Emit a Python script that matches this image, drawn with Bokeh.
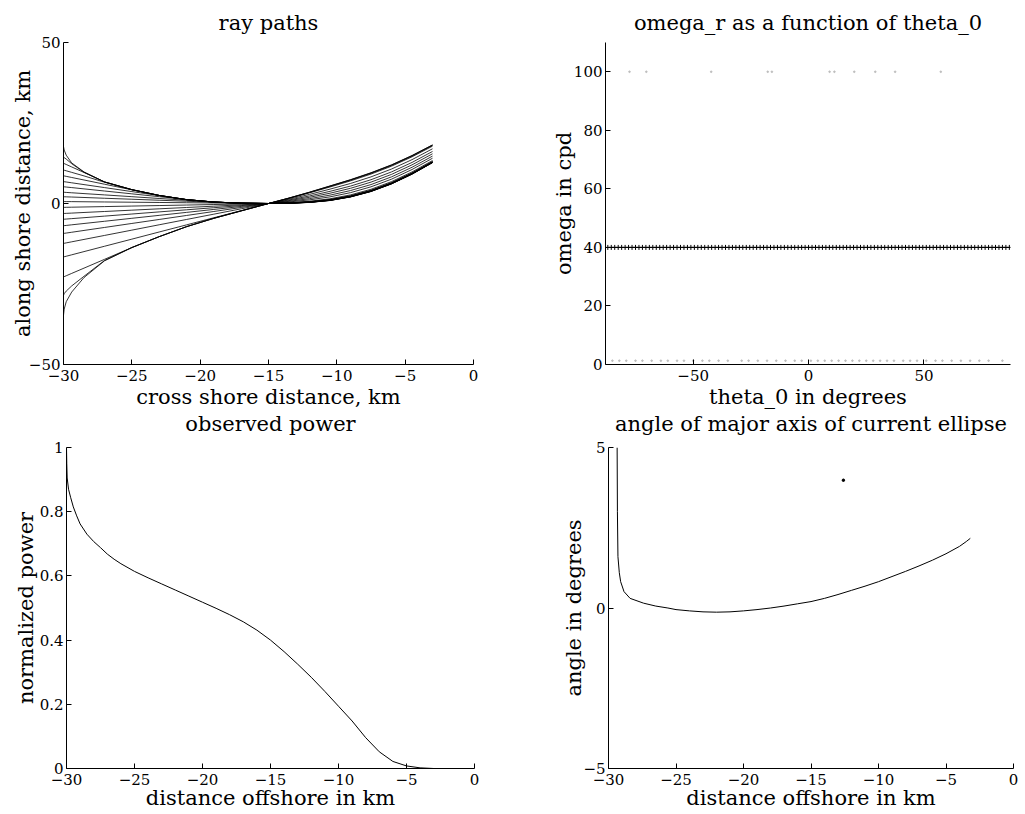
from bokeh.plotting import figure
from bokeh.layouts import column, row
from bokeh.models import Range1d, FixedTicker, CustomJSTickFormatter
from bokeh.embed import file_html
from bokeh.resources import INLINE

FONT = "DejaVu Serif"

# ---------------- data: ray paths ----------------
ray_x = [-30, -29.95, -29.8, -29.4, -28.5, -27, -25, -23, -21, -19, -17, -15,
         -13.5, -12, -10.5, -9, -7.5, -6, -4.5, -3]
ray_01 = [17.7, 16.6, 15.0, 12.6, 9.8, 6.7, 4.3, 2.5, 1.2, 0.45, 0.1, 0, 0.07, 0.33, 0.93, 2.03, 3.72, 6.08, 9.1, 12.68]
ray_02 = [14.4, 14.25, 13.8, 12.35, 9.7, 6.7, 4.3, 2.5, 1.2, 0.45, 0.1, 0, 0.08, 0.35, 0.95, 2.06, 3.75, 6.11, 9.13, 12.71]
ray_03 = [12.5, 12.4, 12.12, 11.35, 9.63, 6.7, 4.3, 2.5, 1.2, 0.45, 0.1, 0, 0.09, 0.36, 0.98, 2.08, 3.78, 6.14, 9.16, 12.74]
ray_04 = [10.4, 10.34, 10.16, 9.67, 8.57, 6.6, 4.3, 2.5, 1.2, 0.45, 0.1, 0, 0.09, 0.38, 1.0, 2.11, 3.81, 6.17, 9.19, 12.76]
ray_05 = [8.6, 8.56, 8.43, 8.08, 7.3, 5.99, 4.25, 2.5, 1.2, 0.45, 0.1, 0, 0.1, 0.39, 1.02, 2.14, 3.84, 6.2, 9.22, 12.79]
ray_06 = [6.8, 6.77, 6.68, 6.43, 5.87, 4.94, 3.7, 2.46, 1.2, 0.45, 0.1, 0, 0.11, 0.41, 1.04, 2.16, 3.87, 6.23, 9.25, 12.82]
ray_07 = [5.2, 5.18, 5.11, 4.94, 4.54, 3.88, 3.0, 2.12, 1.22, 0.45, 0.1, 0, 0.12, 0.43, 1.07, 2.19, 3.9, 6.26, 9.27, 12.85]
ray_08 = [3.5, 3.49, 3.44, 3.33, 3.08, 2.67, 2.12, 1.56, 1.01, 0.45, 0.1, 0, 0.14, 0.46, 1.11, 2.25, 3.95, 6.32, 9.33, 12.9]
ray_09 = [2.1, 2.09, 2.07, 2.01, 1.87, 1.63, 1.32, 1.01, 0.7, 0.38, 0.08, 0, 0.15, 0.49, 1.16, 2.3, 4.01, 6.38, 9.39, 12.96]
ray_10 = [0.6, 0.6, 0.59, 0.58, 0.54, 0.48, 0.4, 0.32, 0.24, 0.16, 0.08, 0, 0.18, 0.55, 1.25, 2.41, 4.13, 6.49, 9.51, 13.07]
ray_11 = [-1.2, -1.2, -1.18, -1.15, -1.08, -0.96, -0.8, -0.64, -0.48, -0.32, -0.16, 0, 0.27, 0.71, 1.47, 2.67, 4.42, 6.79, 9.8, 13.34]
ray_12 = [-3.1, -3.09, -3.06, -2.98, -2.79, -2.48, -2.07, -1.65, -1.24, -0.83, -0.41, 0, 0.48, 1.13, 2.06, 3.37, 5.18, 7.56, 10.55, 14.06]
ray_13 = [-4.9, -4.88, -4.83, -4.7, -4.41, -3.92, -3.27, -2.61, -1.96, -1.31, -0.65, 0, 0.67, 1.51, 2.6, 4.02, 5.88, 8.27, 11.25, 14.72]
ray_14 = [-6.9, -6.88, -6.81, -6.62, -6.21, -5.52, -4.6, -3.68, -2.76, -1.84, -0.92, 0, 0.89, 1.93, 3.19, 4.72, 6.64, 9.04, 12.0, 15.44]
ray_15 = [-9.3, -9.27, -9.18, -8.93, -8.37, -7.44, -6.2, -4.96, -3.72, -2.48, -1.24, 0, 1.1, 2.34, 3.78, 5.41, 7.39, 9.81, 12.75, 16.16]
ray_16 = [-12.4, -12.36, -12.23, -11.9, -11.16, -9.92, -8.27, -6.61, -4.96, -3.31, -1.65, 0, 1.34, 2.82, 4.46, 6.22, 8.27, 10.7, 13.62, 16.99]
ray_17 = [-16.6, -16.54, -16.38, -15.94, -14.94, -13.28, -11.07, -8.85, -6.64, -4.43, -2.21, 0, 1.59, 3.3, 5.13, 7.02, 9.14, 11.59, 14.49, 17.81]
ray_18 = [-22.8, -22.71, -22.44, -21.71, -20.07, -17.34, -13.7, -10.3, -7.2, -4.6, -2.3, 0, 1.65, 3.42, 5.31, 7.24, 9.38, 11.82, 14.73, 18.03]
ray_19 = [-28.5, -28.0, -27.2, -25.6, -22.6, -17.7, -13.65, -10.3, -7.2, -4.6, -2.3, 0, 1.68, 3.49, 5.41, 7.35, 9.49, 11.94, 14.84, 18.15]
ray_20 = [-34.7, -32.8, -30.5, -27.5, -23.0, -17.8, -13.7, -10.3, -7.2, -4.6, -2.3, 0, 1.7, 3.52, 5.45, 7.4, 9.55, 12.0, 14.9, 18.2]
rays = [ray_01, ray_02, ray_03, ray_04, ray_05, ray_06, ray_07, ray_08, ray_09, ray_10,
        ray_11, ray_12, ray_13, ray_14, ray_15, ray_16, ray_17, ray_18, ray_19, ray_20]

# ---------------- data: omega_r vs theta_0 ----------------
theta_0 = [-87, -85.5, -84, -82.5, -81, -79.5, -78, -76.5, -75, -73.5, -72, -70.5, -69, -67.5,
           -66, -64.5, -63, -61.5, -60, -58.5, -57, -55.5, -54, -52.5, -51, -49.5, -48, -46.5,
           -45, -43.5, -42, -40.5, -39, -37.5, -36, -34.5, -33, -31.5, -30, -28.5, -27, -25.5,
           -24, -22.5, -21, -19.5, -18, -16.5, -15, -13.5, -12, -10.5, -9, -7.5, -6, -4.5, -3,
           -1.5, 0, 1.5, 3, 4.5, 6, 7.5, 9, 10.5, 12, 13.5, 15, 16.5, 18, 19.5, 21, 22.5, 24,
           25.5, 27, 28.5, 30, 31.5, 33, 34.5, 36, 37.5, 39, 40.5, 42, 43.5, 45, 46.5, 48, 49.5,
           51, 52.5, 54, 55.5, 57, 58.5, 60, 61.5, 63, 64.5, 66, 67.5, 69, 70.5, 72, 73.5, 75,
           76.5, 78, 79.5, 81, 82.5, 84, 85.5, 87]
omega_r = [40, 40, 40, 40, 40, 40, 40, 40, 40, 40, 40, 40, 40, 40, 40, 40, 40, 40, 40, 40,
           40, 40, 40, 40, 40, 40, 40, 40, 40, 40, 40, 40, 40, 40, 40, 40, 40, 40, 40, 40,
           40, 40, 40, 40, 40, 40, 40, 40, 40, 40, 40, 40, 40, 40, 40, 40, 40, 40, 40, 40,
           40, 40, 40, 40, 40, 40, 40, 40, 40, 40, 40, 40, 40, 40, 40, 40, 40, 40, 40, 40,
           40, 40, 40, 40, 40, 40, 40, 40, 40, 40, 40, 40, 40, 40, 40, 40, 40, 40, 40, 40,
           40, 40, 40, 40, 40, 40, 40, 40, 40, 40, 40, 40, 40, 40, 40, 40, 40]
# faint stray points seen at the top and bottom of the panel
stray_hi_theta = [-77.6, -70.3, -42.2, -17.7, -15.9, 9.1, 11.2, 19.8, 28.9, 37.5, 57.3]
stray_hi_omega = [100, 100, 100, 100, 100, 100, 100, 100, 100, 100, 100]
stray_lo_theta = [-85, -82, -79, -75, -72, -68, -64, -61, -57, -54, -50, -46, -43, -39, -35,
                  -29, -26, -22, -18, -14, -10, -6, -3, 1, 4, 7, 10, 13, 16, 19, 22, 25, 28,
                  31, 34, 37, 41, 44, 47, 51, 55, 58, 62, 66, 70, 74, 78, 84]
stray_lo_omega = [1.3, 1.3, 1.3, 1.3, 1.3, 1.3, 1.3, 1.3, 1.3, 1.3, 1.3, 1.3, 1.3, 1.3, 1.3,
                  1.3, 1.3, 1.3, 1.3, 1.3, 1.3, 1.3, 1.3, 1.3, 1.3, 1.3, 1.3, 1.3, 1.3, 1.3,
                  1.3, 1.3, 1.3, 1.3, 1.3, 1.3, 1.3, 1.3, 1.3, 1.3, 1.3, 1.3, 1.3, 1.3, 1.3,
                  1.3, 1.3, 1.3]

# ---------------- data: observed power ----------------
power_x = [-30, -29.98, -29.95, -29.85, -29.7, -29.5, -29.25, -29, -28.5, -28, -27.5, -27,
           -26.5, -26, -25, -24, -23, -22, -21, -20, -19, -18, -17, -16, -15, -14, -13, -12,
           -11, -10, -9, -8, -7, -6, -5, -4, -3]
power_y = [1.0, 0.95, 0.905, 0.87, 0.845, 0.815, 0.787, 0.762, 0.73, 0.707, 0.688, 0.668,
           0.652, 0.638, 0.614, 0.594, 0.575, 0.556, 0.537, 0.518, 0.499, 0.479, 0.457, 0.431,
           0.4, 0.364, 0.325, 0.284, 0.24, 0.194, 0.148, 0.096, 0.052, 0.022, 0.008, 0.002,
           0.0]

# ---------------- data: angle of major axis ----------------
angle_x = [-29.36, -29.34, -29.3, -29.2, -29.1, -28.85, -28.4, -27.4, -26.5, -25.6, -25, -24,
           -23, -22, -21, -20, -19, -18, -17, -16, -15, -14, -13, -12, -11, -10, -9, -8, -7,
           -6, -5, -4, -3.5, -3.2]
angle_y = [5.0, 3.0, 1.6, 1.1, 0.82, 0.51, 0.3, 0.15, 0.06, 0.0, -0.05, -0.09, -0.12, -0.13,
           -0.12, -0.09, -0.05, 0.0, 0.06, 0.13, 0.2, 0.3, 0.42, 0.55, 0.68, 0.82, 0.98, 1.14,
           1.31, 1.49, 1.69, 1.92, 2.07, 2.17]
angle_stray_x = [-12.6]
angle_stray_y = [3.98]

MINUS_FMT = "return (tick < 0 ? '\u2212' : '') + Math.abs(tick).toString();"


def make_fig(title, width, height, bl, br, bt, bb, xr, yr, xticks, yticks,
             xlabel, ylabel, xls, yls, tstand, tvalign, border_fill="white"):
    p = figure(width=width, height=height, title=title, output_backend="svg",
               toolbar_location=None, x_range=Range1d(*xr), y_range=Range1d(*yr),
               min_border_left=bl, min_border_right=br, min_border_top=bt,
               min_border_bottom=bb)
    p.title.text_font = FONT
    p.title.text_font_size = "21px"
    p.title.text_font_style = "normal"
    p.title.text_color = "black"
    p.title.align = "center"
    p.title.vertical_align = tvalign
    p.title.standoff = tstand
    p.outline_line_color = None
    p.grid.visible = False
    p.background_fill_color = "white"
    p.border_fill_color = border_fill
    for ax, ticks, lab, ls, mls in ((p.xaxis[0], xticks, xlabel, xls, 5),
                                    (p.yaxis[0], yticks, ylabel, yls, 3)):
        ax.ticker = FixedTicker(ticks=ticks)
        ax.formatter = CustomJSTickFormatter(code=MINUS_FMT)
        ax.axis_label = lab
        ax.axis_label_text_font = FONT
        ax.axis_label_text_font_size = "21px"
        ax.axis_label_text_font_style = "normal"
        ax.axis_label_text_color = "black"
        ax.axis_label_standoff = ls
        ax.major_label_text_font = FONT
        ax.major_label_text_font_size = "15px"
        ax.major_label_text_color = "black"
        ax.major_label_standoff = mls
        ax.major_tick_in = 5
        ax.major_tick_out = 0
        ax.minor_tick_in = 0
        ax.minor_tick_out = 0
        ax.axis_line_color = "black"
        ax.major_tick_line_color = "black"
    return p


X30 = [-30, -25, -20, -15, -10, -5, 0]

p1 = make_fig("ray paths", 540, 413, 63, 67, 42, 49, (-30, 0), (-50, 50),
              X30, [-50, 0, 50],
              "cross shore distance, km", "along shore distance, km", 1, -9, 15, "bottom")
p1.multi_line(xs=[ray_x] * len(rays), ys=rays, line_color="black", line_width=0.8)

p2 = make_fig("omega_r as a function of theta_0", 485, 413, 65, 15, 42, 49, (-88, 87.5), (0, 110),
              [-50, 0, 50], [0, 20, 40, 60, 80, 100],
              "theta_0 in degrees", "omega in cpd", 1, -5, 15, "bottom")
p2.scatter(stray_hi_theta, stray_hi_omega, marker="circle", size=1.6, color="#bdbdbd")
p2.scatter(stray_lo_theta, stray_lo_omega, marker="circle", size=1.6, color="#bdbdbd")
p2.line(theta_0, omega_r, line_color="black", line_width=1)
p2.scatter(theta_0, omega_r, marker="cross", size=5, line_color="black", line_width=1)

# the lower row overlaps the upper one by 12px (transparent border) so that
# its titles can sit as close to the upper axis labels as in the original
p3 = make_fig("observed power", 540, 413, 66, 66, 46, 46, (-30, 0), (0, 1),
              X30, [0, 0.2, 0.4, 0.6, 0.8, 1],
              "distance offshore in km", "normalized power", -2, -1, 19, "top", None)
p3.line(power_x, power_y, line_color="black", line_width=1)

p4 = make_fig("angle of major axis of current ellipse", 485, 413, 68, 12, 46, 46, (-30, 0), (-5, 5),
              X30, [-5, 0, 5],
              "distance offshore in km", "angle in degrees", -2, -6, 19, "top", None)
p4.line(angle_x, angle_y, line_color="black", line_width=1)
p4.scatter(angle_stray_x, angle_stray_y, marker="circle", size=2.5, color="black")

layout = column(row(p1, p2), row(p3, p4, margin=(-12, 0, 0, 0)))
open("out.html", "w").write(file_html(layout, INLINE))
